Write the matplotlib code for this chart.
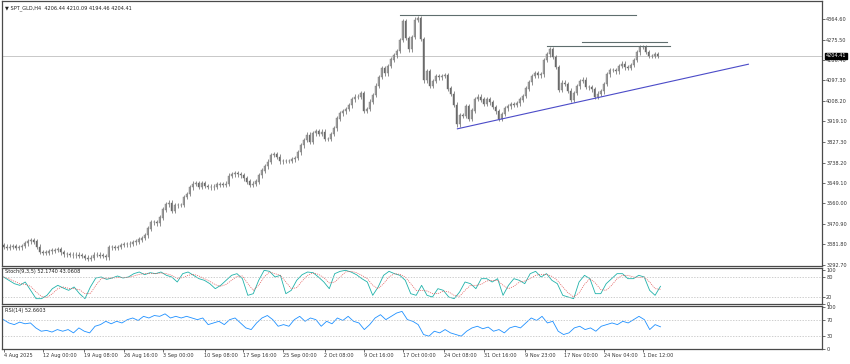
import matplotlib
matplotlib.use("Agg")
import matplotlib.pyplot as plt
import numpy as np

# H4 gold closes (one value per ~2.4 bars)
closes = [
    3371, 3367, 3371, 3375, 3367, 3369, 3375, 3386, 3395, 3399,
    3393, 3371, 3349, 3345, 3345, 3351, 3354, 3356, 3360, 3347,
    3338, 3338, 3336, 3334, 3336, 3332, 3330, 3323, 3317, 3323,
    3336, 3336, 3332, 3330, 3325, 3368, 3368, 3365, 3370, 3378,
    3382, 3381, 3384, 3390, 3393, 3402, 3409, 3421, 3450, 3480,
    3477, 3473, 3498, 3533, 3556, 3563, 3528, 3552, 3553, 3554,
    3589, 3602, 3631, 3646, 3650, 3633, 3650, 3637, 3633, 3630,
    3633, 3642, 3644, 3640, 3646, 3681, 3687, 3690, 3687, 3683,
    3670, 3655, 3642, 3646, 3655, 3683, 3703, 3722, 3742, 3772,
    3775, 3764, 3744, 3745, 3746, 3746, 3752, 3759, 3783, 3814,
    3838, 3860, 3829, 3866, 3877, 3864, 3873, 3842, 3842, 3864,
    3888, 3930, 3954, 3962, 3973, 3988, 4015, 4026, 4026, 4043,
    3965, 3973, 4004, 4034, 4074, 4113, 4152, 4128, 4161, 4188,
    4207, 4226, 4274, 4355, 4283, 4233, 4287, 4362, 4370, 4279,
    4098, 4139, 4074, 4095, 4117, 4110, 4117, 4119, 4061, 4039,
    3991, 3905, 3947, 3943, 3986, 3930, 3965, 4017, 4026, 4013,
    3996, 4017, 4002, 3982, 3962, 3930, 3951, 3975, 3984, 3995,
    3991, 3997, 4013, 4030, 4061, 4089, 4117, 4130, 4119, 4124,
    4187, 4211, 4235, 4200, 4156, 4056, 4087, 4082, 4052, 4013,
    4043, 4071, 4095, 4100, 4069, 4067, 4058, 4026, 4039, 4050,
    4082, 4124, 4142, 4143, 4137, 4161, 4170, 4154, 4152, 4165,
    4187, 4220, 4244, 4244, 4222, 4204, 4204, 4213, 4204.41,
]
first_open = 3378

stoch_main = [
    80, 70, 60, 55, 65, 40, 15, 15, 25, 45, 55, 47, 40, 50, 30, 15, 50, 77, 80, 73,
    77, 83, 77, 80, 90, 95, 87, 93, 90, 95, 85, 80, 65, 90, 95, 85, 75, 70, 60, 45,
    55, 70, 85, 90, 75, 25, 30, 70, 100, 97, 80, 85, 30, 40, 70, 87, 95, 93, 80, 65,
    45, 90, 97, 100, 95, 87, 75, 65, 25, 50, 85, 97, 90, 85, 70, 30, 25, 55, 25, 20,
    45, 40, 20, 15, 35, 65, 60, 45, 75, 75, 65, 75, 25, 55, 75, 70, 60, 90, 97, 80,
    90, 70, 60, 25, 20, 15, 65, 85, 75, 30, 30, 60, 75, 90, 90, 75, 75, 85, 80, 40,
    25, 52.17,
]
stoch_signal = [
    80, 75, 67, 60, 58, 52, 35, 22, 18, 30, 45, 50, 46, 45, 42, 30, 30, 55, 75, 77,
    77, 78, 79, 79, 83, 88, 90, 90, 90, 92, 90, 85, 76, 78, 85, 88, 83, 75, 67, 57,
    52, 58, 70, 82, 83, 60, 40, 55, 80, 95, 90, 85, 65, 45, 48, 68, 85, 92, 88, 78,
    62, 65, 80, 95, 97, 93, 85, 75, 55, 45, 60, 80, 90, 88, 80, 60, 40, 40, 38, 30,
    30, 38, 35, 25, 22, 40, 55, 55, 58, 68, 70, 70, 55, 45, 52, 65, 68, 75, 85, 88,
    88, 82, 70, 50, 32, 20, 32, 58, 75, 62, 42, 40, 55, 75, 85, 85, 80, 78, 80, 65,
    45, 43.06,
]
rsi = [
    70, 62, 58, 64, 60, 62, 50, 42, 44, 40, 46, 42, 46, 38, 50, 42, 38, 54, 58, 66,
    60, 66, 62, 70, 74, 68, 78, 74, 80, 78, 84, 74, 78, 74, 78, 74, 70, 74, 58, 62,
    66, 58, 70, 74, 62, 50, 46, 62, 74, 80, 70, 54, 58, 54, 70, 78, 66, 74, 70, 54,
    66, 60, 74, 68, 78, 66, 62, 46, 58, 74, 82, 70, 78, 86, 90, 70, 66, 58, 34, 30,
    42, 38, 46, 38, 34, 30, 42, 50, 54, 48, 52, 42, 46, 38, 50, 54, 50, 62, 74, 68,
    78, 62, 66, 42, 34, 38, 50, 54, 46, 50, 42, 54, 58, 62, 58, 66, 62, 70, 78, 70,
    46, 58, 52.66,
]

price_ticks = [4364.60, 4275.50, 4186.40, 4097.30, 4008.20, 3919.10, 3827.30,
               3738.20, 3649.10, 3560.00, 3470.90, 3381.80, 3292.70]
date_labels = ["4 Aug 2025", "12 Aug 00:00", "19 Aug 08:00", "26 Aug 16:00",
               "3 Sep 00:00", "10 Sep 08:00", "17 Sep 16:00", "25 Sep 00:00",
               "2 Oct 08:00", "9 Oct 16:00", "17 Oct 00:00", "24 Oct 08:00",
               "31 Oct 16:00", "9 Nov 23:00", "17 Nov 00:00", "24 Nov 04:00",
               "1 Dec 12:00"]
date_pos = [0, 13.3, 26.7, 40.3, 53.3, 67, 79.7, 93.3, 107, 120.3, 133.3,
            146.7, 160.3, 173.7, 187, 200, 213.3]

# drawn objects: horizontal levels (price, start idx, end idx) and trendline
levels = [(4381, 132.3, 210.7), (4246, 181.3, 222), (4263, 192.7, 221)]
trend = [(151.3, 3886), (248.3, 4168)]

fs = 3.6
frame = "#4a4a4a"
n = len(closes)
x = np.arange(n)
opens = np.array([first_open] + closes[:-1])
c = np.array(closes)
wick = 10

fig = plt.figure(figsize=(8.5, 3.64), dpi=100)
ax = fig.add_axes([2 / 850, 1 - 266 / 364, 820 / 850, 265 / 364])
ax_st = fig.add_axes([2 / 850, 1 - 304 / 364, 820 / 850, 36 / 364])
ax_rsi = fig.add_axes([2 / 850, 1 - 349 / 364, 820 / 850, 43 / 364])

xmax = -0.5 + 820 / 3
for a in (ax, ax_st, ax_rsi):
    a.set_xlim(-0.5, xmax)
    a.yaxis.tick_right()
    a.tick_params(axis="y", length=2, width=0.5, labelsize=fs, pad=1,
                  colors="#333333")
    for s in a.spines.values():
        s.set_color(frame)
        s.set_linewidth(0.9)

# candles
up = c >= opens
lo = np.minimum(opens, c)
hi = np.maximum(opens, c)
ax.vlines(x, lo - wick, hi + wick, color="#707070", lw=0.55)
ax.bar(x[up], (hi - lo)[up] + 1, bottom=lo[up], width=0.5, color="#b0b0b0",
       edgecolor="#7a7a7a", lw=0.3)
ax.bar(x[~up], (hi - lo)[~up] + 1, bottom=lo[~up], width=0.5, color="#6a6a6a",
       edgecolor="#6a6a6a", lw=0.3)

ax.axhline(closes[-1], color="#c8c8c8", lw=0.7, zorder=0)
for lvl, x0, x1 in levels:
    ax.plot([x0, x1], [lvl, lvl], color="#5f6e6e", lw=0.8)
ax.plot([trend[0][0], trend[1][0]], [trend[0][1], trend[1][1]],
        color="#4b4bc8", lw=0.8)

ax.set_ylim(3287, 4444)
ax.set_yticks(price_ticks)
ax.set_yticklabels([f"{v:.2f}" for v in price_ticks])
ax.set_xticks([])
ax.text(1.004, closes[-1], f"{closes[-1]:.2f}", transform=ax.get_yaxis_transform(),
        fontsize=fs, color="white", va="center", ha="left",
        bbox=dict(boxstyle="square,pad=0.15", fc="black", ec="black"))
ax.text(0.004, 0.985, "\u25bc SPT_GLD,H4  4206.44 4210.09 4194.46 4204.41",
        transform=ax.transAxes, fontsize=fs, va="top", ha="left", color="#222222")

# stochastic
xs = np.linspace(0, n, len(stoch_main))
ax_st.plot(xs, stoch_main, color="#20b2aa", lw=0.6)
ax_st.plot(np.linspace(0, n, len(stoch_signal)), stoch_signal, color="#e05050",
           lw=0.5, ls=(0, (1.5, 1.5)))
for v in (80, 20):
    ax_st.axhline(v, color="#bbbbbb", lw=0.5, ls=(0, (2, 2)))
ax_st.set_ylim(-1, 107)
ax_st.set_yticks([100, 80, 20, 0])
ax_st.set_yticklabels(["100", "80", "20", "0"])
ax_st.set_xticks([])
ax_st.text(0.004, 0.96, "Stoch(9,3,5) 52.1740 43.0608", transform=ax_st.transAxes,
           fontsize=fs, va="top", ha="left", color="#222222")

# RSI
ax_rsi.plot(np.linspace(0, n, len(rsi)), rsi, color="#1e90ff", lw=0.6)
for v in (70, 30):
    ax_rsi.axhline(v, color="#bbbbbb", lw=0.5, ls=(0, (2, 2)))
ax_rsi.set_ylim(-1, 103)
ax_rsi.set_yticks([100, 70, 30, 0])
ax_rsi.set_yticklabels(["100", "70", "30", "0"])
ax_rsi.set_xticks(date_pos)
ax_rsi.set_xticklabels(date_labels, ha="left")
ax_rsi.tick_params(axis="x", length=2, width=0.5, labelsize=fs, pad=1,
                   colors="#333333")
ax_rsi.text(0.004, 0.96, "RSI(14) 52.6603", transform=ax_rsi.transAxes,
            fontsize=fs, va="top", ha="left", color="#222222")

fig.savefig("out.png", dpi=100, facecolor="white")
